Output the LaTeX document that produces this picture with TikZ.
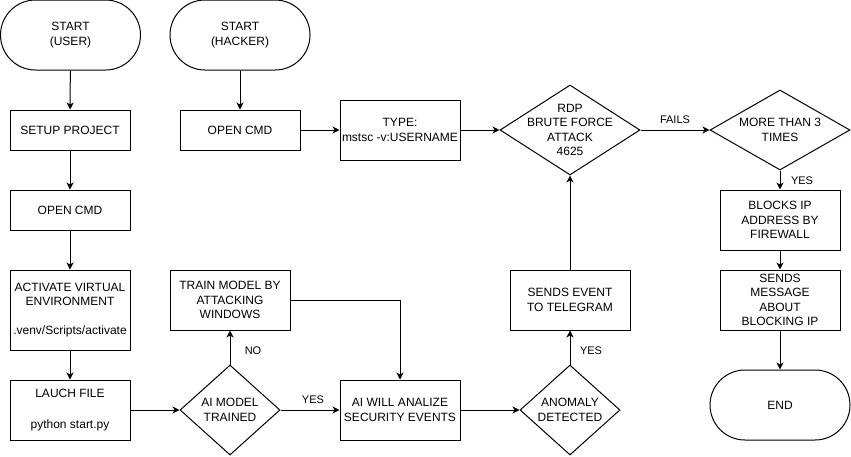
\documentclass[tikz,border=0pt]{standalone}
\usepackage{fontspec}
\setmainfont{Liberation Sans}
\usetikzlibrary{arrows.meta,shapes.geometric}
\begin{document}
\begin{tikzpicture}[x=1pt,y=-1pt,line width=1pt,
  every node/.style={font=\fontsize{12}{14.5}\selectfont},
  box/.style={draw,rectangle,minimum width=120pt,align=center,inner sep=1pt},
  term/.style={draw,rectangle,rounded corners=35pt,minimum width=140pt,minimum height=70pt,align=center},
  dia/.style={draw,diamond,inner sep=0pt},
  lbl/.style={font=\fontsize{11}{13}\selectfont,inner sep=1pt},
  arr/.style={-{Stealth[length=7pt,width=7pt,inset=2pt]}}]
\useasboundingbox (0,0) rectangle (851,456);

% left column
\node[term] (su) at (70.5,35) {START\\(USER)};
\node[box,minimum height=40pt] (setup) at (70,130) {SETUP PROJECT};
\node[box,minimum height=40pt] (ocmd) at (70,210) {OPEN CMD};
\node[box,minimum height=80pt] (act) at (70,310) {ACTIVATE VIRTUAL\\ENVIRONMENT\\[14pt].venv/Scripts/activate};
\node[box,minimum height=60pt] (launch) at (70,410) {LAUCH FILE\\[16pt]python start.py};

% hacker start
\node[term] (sh) at (240,35) {START\\(HACKER)};
\node[box,minimum height=40pt] (ocmdh) at (240,130) {OPEN CMD};
\node[box,minimum height=60pt] (type) at (400,130) {TYPE:\\mstsc -v:USERNAME};
\node[dia,minimum width=140pt,minimum height=90pt,
  label={[align=center]center:RDP\\BRUTE FORCE\\ATTACK\\4625}] (rdp) at (570,130) {};
\node[dia,minimum width=140pt,minimum height=80pt,
  label={[align=center]center:MORE THAN 3\\TIMES}] (more) at (780,130) {};
\node[box,minimum height=60pt] (block) at (780,220) {BLOCKS IP\\ADDRESS BY\\FIREWALL};
\node[box,minimum height=60pt] (sendm) at (780,300) {SENDS\\MESSAGE\\ABOUT\\BLOCKING IP};
\node[term] (end) at (780,405) {END};

% middle
\node[dia,minimum width=100pt,minimum height=90pt,
  label={[align=center]center:AI MODEL\\TRAINED}] (aim) at (230,410) {};
\node[box,minimum height=60pt] (train) at (230,300) {TRAIN MODEL BY\\ATTACKING\\WINDOWS};
\node[box,minimum height=60pt] (anal) at (400,410) {AI WILL ANALIZE\\SECURITY EVENTS};
\node[dia,minimum width=100pt,minimum height=90pt,
  label={[align=center]center:ANOMALY\\DETECTED}] (anom) at (570,410) {};
\node[box,minimum height=60pt] (tele) at (570,300) {SENDS EVENT\\TO TELEGRAM};

% connectors
\draw[arr] (su) -- (setup);
\draw[arr] (setup) -- (ocmd);
\draw[arr] (ocmd) -- (act);
\draw[arr] (act) -- (launch);
\draw[arr] (launch) -- (aim);
\draw[arr] (aim) -- (train);
\draw[arr] (aim) -- (anal);
\draw[arr] (train.east) -| (anal.north);
\draw[arr] (anal) -- (anom);
\draw[arr] (anom) -- (tele);
\draw[arr] (tele) -- (rdp);
\draw[arr] (sh) -- (ocmdh);
\draw[arr] (ocmdh) -- (type);
\draw[arr] (type) -- (rdp);
\draw[arr] (rdp) -- (more);
\draw[arr] (more) -- (block);
\draw[arr] (block) -- (sendm);
\draw[arr] (sendm) -- (end);

% edge labels
\node[lbl] (lno) at (253,351) {NO};
\node[lbl] (lyes1) at (313,400) {YES};
\node[lbl] (lyes2) at (591,351) {YES};
\node[lbl] (lfails) at (675,120) {FAILS};
\node[lbl] (lyes3) at (802,181) {YES};
\end{tikzpicture}
\end{document}
